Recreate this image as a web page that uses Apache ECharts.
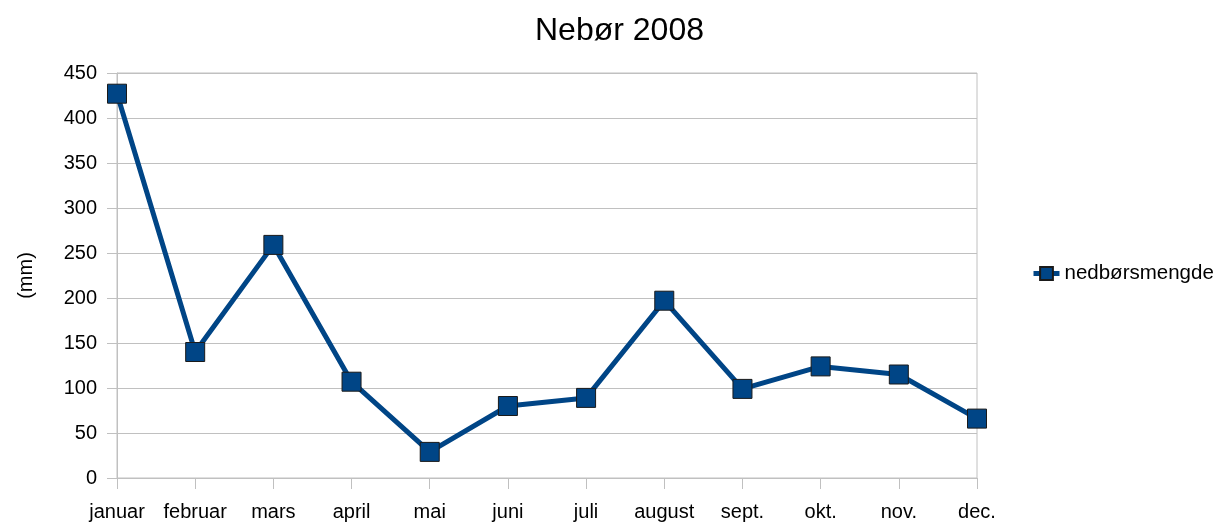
<!DOCTYPE html>
<html>
<head>
<meta charset="utf-8">
<script src="https://cdn.jsdelivr.net/npm/echarts@6/dist/echarts.min.js"></script>
<style>
    html, body { margin: 0; padding: 0; background: #fff; }
    #chart { width: 1219px; height: 524px; }
</style>
</head>
<body>
<div id="chart"></div>
<script>
var months = ['januar', 'februar', 'mars', 'april', 'mai', 'juni', 'juli', 'august', 'sept.', 'okt.', 'nov.', 'dec.'];
var rainfall = [427, 140, 259, 107, 29, 80, 89, 197, 99, 124, 115, 66];
var seriesName = 'nedbørsmengde';

var myChart = echarts.init(document.getElementById('chart'));

var option = {
    backgroundColor: '#ffffff',
    textStyle: { fontFamily: 'Liberation Sans, Arial, sans-serif' },
    title: {
        text: 'Nebør 2008',
        left: 530,
        top: 10,
        textStyle: { fontSize: 32, fontWeight: 'normal', color: '#000' }
    },
    legend: {
        orient: 'vertical',
        left: 1026,
        top: 258,
        itemWidth: 26,
        itemHeight: 16,
        itemGap: 4,
        lineStyle: { width: 5 },
        textStyle: { fontSize: 20.5, color: '#000' },
        data: [seriesName]
    },
    grid: {
        left: 117,
        right: 242,
        top: 73,
        bottom: 46,
        show: true,
        borderColor: '#c0c0c0',
        borderWidth: 1
    },
    xAxis: {
        type: 'category',
        data: months,
        boundaryGap: false,
        axisLine: { lineStyle: { color: '#c0c0c0' } },
        axisTick: { show: true, length: 11, lineStyle: { color: '#c0c0c0' } },
        axisLabel: { color: '#000', fontSize: 20, margin: 24, interval: 0 },
        splitLine: { show: false }
    },
    yAxis: {
        type: 'value',
        name: '(mm)',
        nameLocation: 'middle',
        nameGap: 81,
        nameRotate: 90,
        nameTextStyle: { color: '#000', fontSize: 20 },
        min: 0,
        max: 450,
        interval: 50,
        axisLine: { show: true, lineStyle: { color: '#c0c0c0' } },
        axisTick: { show: true, length: 10, lineStyle: { color: '#c0c0c0' } },
        axisLabel: { color: '#000', fontSize: 20, margin: 20 },
        splitLine: { lineStyle: { color: '#c0c0c0' } }
    },
    series: [
        {
            name: seriesName,
            type: 'line',
            data: rainfall,
            symbol: 'rect',
            symbolSize: 19,
            color: '#004586',
            lineStyle: { width: 5, color: '#004586' },
            itemStyle: { color: '#004586', borderColor: '#1a1a1a', borderWidth: 1 },
            z: 3,
            animation: false
        }
    ]
};

myChart.setOption(option, true);
</script>
</body>
</html>
